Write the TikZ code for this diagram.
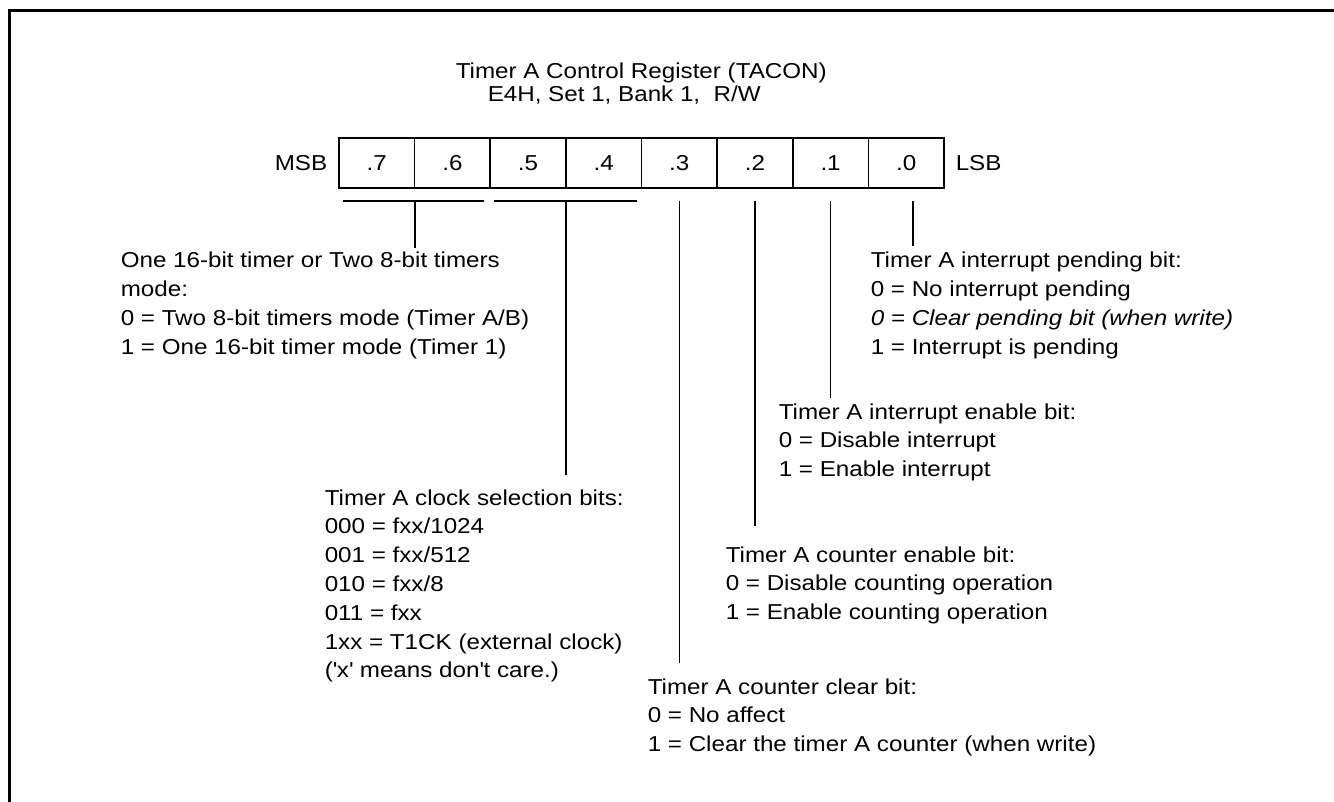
\documentclass[tikz,border=0pt]{standalone}
\usepackage{fontspec}
\setmainfont[FakeStretch=1.12]{Liberation Sans}
\begin{document}
\begin{tikzpicture}[x=0.5pt,y=-0.5pt,line width=0.75pt,
  txt/.style={inner sep=0pt,anchor=base west,align=left,font=\fontsize{10.8}{14.4}\selectfont},
  cell/.style={draw,minimum width=37.8125pt,minimum height=25pt,inner sep=0pt,font=\fontsize{10.8}{14.4}\selectfont},
  lbl/.style={inner sep=0pt,font=\fontsize{10.8}{14.4}\selectfont},
  frame/.style={line width=1.5pt}]
\useasboundingbox (0,0) rectangle (1334,802);
% outer frame (only top and left edges visible)
\draw[frame] (9.5,830) -- (9.5,10.5) -- (1360,10.5);

% title
\node[txt] (t1) at (455,79) {Timer A Control Register (TACON)};
\node[txt] (t2) at (487,102) {E4H, Set 1, Bank 1,\ \ R/W};

% register cells
\node[cell] (b7) at (376.8,163) {.7};
\node[cell] (b6) at (452.4,163) {.6};
\node[cell] (b5) at (528.0,163) {.5};
\node[cell] (b4) at (603.7,163) {.4};
\node[cell] (b3) at (679.3,163) {.3};
\node[cell] (b2) at (754.9,163) {.2};
\node[cell] (b1) at (830.6,163) {.1};
\node[cell] (b0) at (906.2,163) {.0};
\node[lbl,anchor=east] (msb) at (328,163) {MSB};
\node[lbl,anchor=west] (lsb) at (955,163) {LSB};

% brackets
\coordinate (k1a) at (343,201); \coordinate (k1b) at (484,201); \coordinate (k1m) at (415,201);
\coordinate (k2a) at (494,201); \coordinate (k2b) at (637,201); \coordinate (k2m) at (566,201);
\draw (k1a) -- (k1b);
\draw (k2a) -- (k2b);

% leader start points
\coordinate (s3) at (679.3,201);
\coordinate (s2) at (754.9,201);
\coordinate (s1) at (830.6,201);
\coordinate (s0) at (913,201);
% leader end points
\coordinate (e76) at (415,248);
\coordinate (e54) at (566,475);
\coordinate (e3) at (679.3,663);
\coordinate (e2) at (754.9,526);
\coordinate (e1) at (830.6,398);
\coordinate (e0) at (913,246);

\draw (k1m) -- (e76);
\draw (k2m) -- (e54);
\draw (s3) -- (e3);
\draw (s2) -- (e2);
\draw (s1) -- (e1);
\draw (s0) -- (e0);

% descriptions (anchored at the baseline of the last line)
\node[txt] (d76) at (120,354.4) {One 16-bit timer or Two 8-bit timers\\mode:\\0 = Two 8-bit timers mode (Timer A/B)\\1 = One 16-bit timer mode (Timer 1)};
\node[txt] (d0) at (870,354.4) {Timer A interrupt pending bit:\\0 = No interrupt pending\\\textit{0 = Clear pending bit (when write)}\\1 = Interrupt is pending};
\node[txt] (d1) at (778,476.6) {Timer A interrupt enable bit:\\0 = Disable interrupt\\1 = Enable interrupt};
\node[txt] (d54) at (324,677.8) {Timer A clock selection bits:\\000 = fxx/1024\\001 = fxx/512\\010 = fxx/8\\011 = fxx\\1xx = T1CK (external clock)\\(\textquotesingle x\textquotesingle{} means don\textquotesingle t care.)};
\node[txt] (d2) at (725,619.6) {Timer A counter enable bit:\\0 = Disable counting operation\\1 = Enable counting operation};
\node[txt] (d3) at (647,751.6) {Timer A counter clear bit:\\0 = No affect\\1 = Clear the timer A counter (when write)};
\end{tikzpicture}
\end{document}
